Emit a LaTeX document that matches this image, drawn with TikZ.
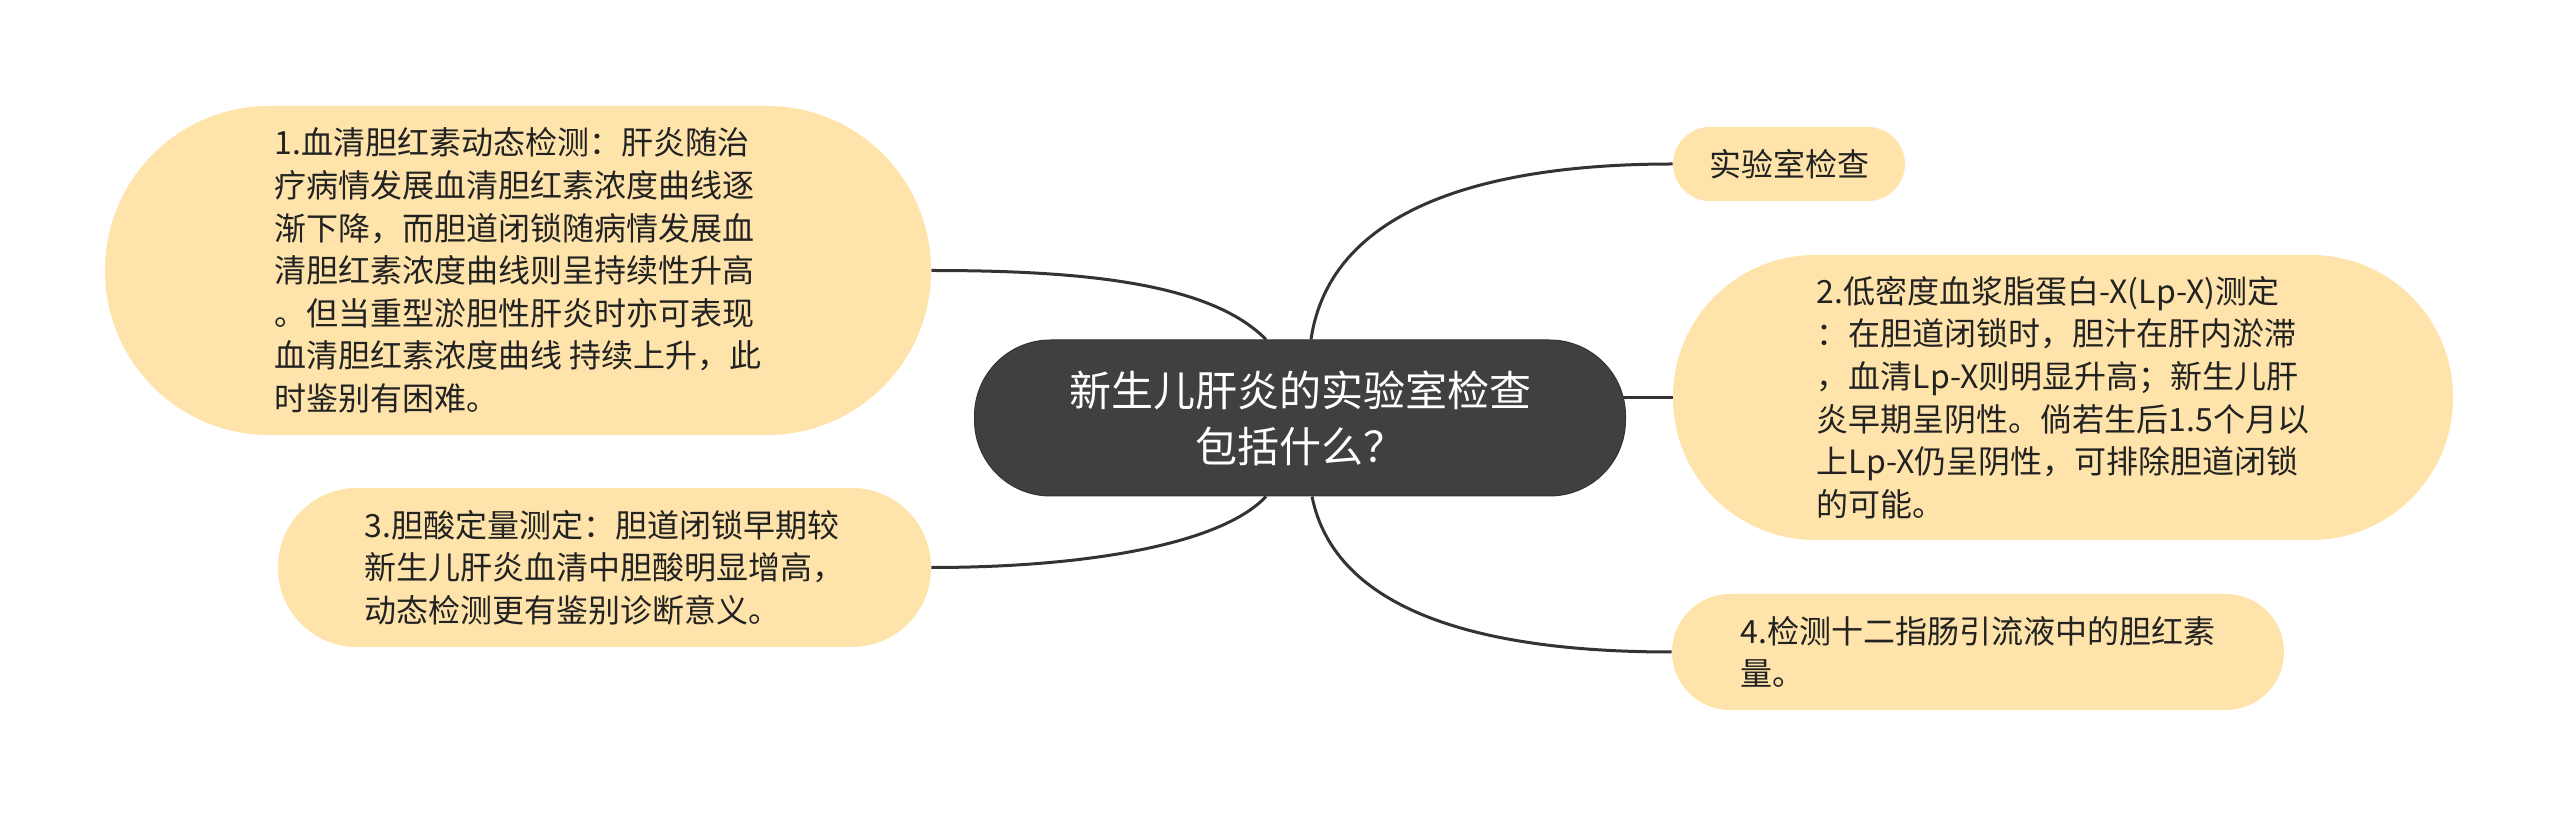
\documentclass[tikz,border=0pt]{standalone}
\usepackage{fontspec}
\setmainfont{Noto Sans CJK SC}
\usetikzlibrary{backgrounds}
\definecolor{peach}{HTML}{FEE4AB}
\definecolor{hub}{HTML}{404040}
\definecolor{ink}{HTML}{222222}
\definecolor{wire}{HTML}{333333}
\tikzset{
  leaf/.style={fill=peach, text=ink, inner sep=0pt, align=left,
    font=\fontsize{16pt}{21.3pt}\selectfont},
  hubnode/.style={fill=hub, draw=hub!80!black, line width=0.5pt, text=white, inner sep=0pt, align=center,
    font=\fontsize{21pt}{28pt}\selectfont, minimum width=325.5pt, minimum height=78pt, rounded corners=38pt},
  link/.style={draw=wire, line width=1.5pt},
}
\begin{document}
\begin{tikzpicture}[x=0.5pt,y=-0.5pt]
\useasboundingbox (0,0) rectangle (2560,817);
\node[hubnode] (c) at (1300,418) {新生儿肝炎的实验室检查\\包括什么？};
\node[leaf, minimum width=413pt, minimum height=164.5pt, rounded corners=82pt] (n1) at (518,270.5)
  {1.血清胆红素动态检测：肝炎随治\\疗病情发展血清胆红素浓度曲线逐\\渐下降，而胆道闭锁随病情发展血\\清胆红素浓度曲线则呈持续性升高\\。但当重型淤胆性肝炎时亦可表现\\血清胆红素浓度曲线 持续上升，此\\时鉴别有困难。};
\node[leaf, minimum width=326.5pt, minimum height=79.5pt, rounded corners=39.5pt] (n3) at (604.5,567.5)
  {3.胆酸定量测定：胆道闭锁早期较\\新生儿肝炎血清中胆酸明显增高，\\动态检测更有鉴别诊断意义。};
\node[leaf, minimum width=116pt, minimum height=37pt, rounded corners=18.5pt] (lab) at (1789,164)
  {实验室检查};
\node[leaf, minimum width=390pt, minimum height=142.5pt, rounded corners=71pt] (n2) at (2063,397.5)
  {2.低密度血浆脂蛋白-X(Lp-X)测定\\：在胆道闭锁时，胆汁在肝内淤滞\\，血清Lp-X则明显升高；新生儿肝\\炎早期呈阴性。倘若生后1.5个月以\\上Lp-X仍呈阴性，可排除胆道闭锁\\的可能。};
\node[leaf, minimum width=306pt, minimum height=58pt, rounded corners=29pt] (n4) at (1978,652)
  {4.检测十二指肠引流液中的胆红素\\量。};
\begin{scope}[on background layer]
\draw[link] ([xshift=-17pt]c.north) .. controls +(-56,-57) and +(150,0) .. (n1.east);
\draw[link] ([xshift=5.5pt]c.north) .. controls +(19,-130) and +(-190,0) .. (lab.west);
\draw[link] (n2.west) -- (c.center |- n2.west);
\draw[link] ([xshift=-17pt]c.south) .. controls +(-46,49) and +(150,0) .. (n3.east);
\draw[link] ([xshift=6pt]c.south) .. controls +(23,114) and +(-193,0) .. (n4.west);
\end{scope}
\end{tikzpicture}
\end{document}
